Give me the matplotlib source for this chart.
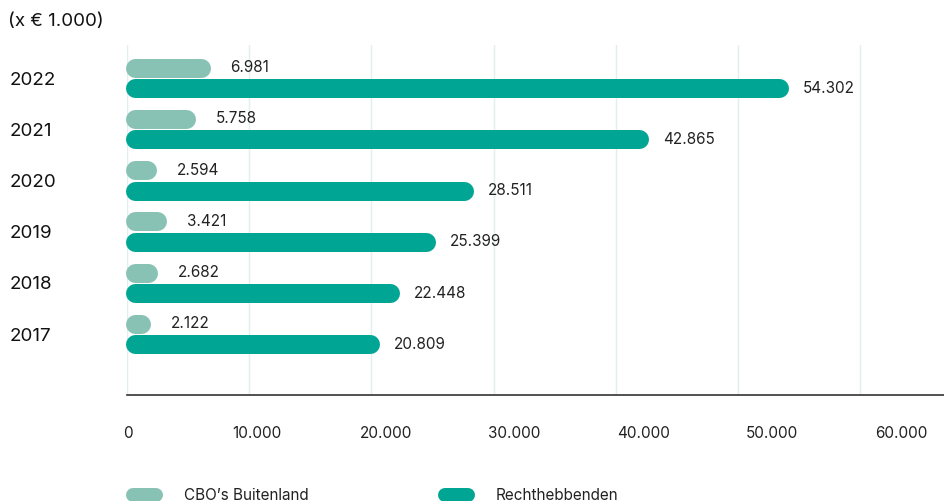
import matplotlib.pyplot as plt
from matplotlib.lines import Line2D

plt.rcParams['font.family'] = ['Inter', 'DejaVu Sans']

# data (x € 1.000)
years = ['2022', '2021', '2020', '2019', '2018', '2017']
cbo_buitenland = [6981, 5758, 2594, 3421, 2682, 2122]
rechthebbenden = [54302, 42865, 28511, 25399, 22448, 20809]
labels_cbo = ['6.981', '5.758', '2.594', '3.421', '2.682', '2.122']
labels_rh = ['54.302', '42.865', '28.511', '25.399', '22.448', '20.809']
ticks = [0, 10000, 20000, 30000, 40000, 50000, 60000]
tick_labels = ['0', '10.000', '20.000', '30.000', '40.000', '50.000', '60.000']

c_light = '#88c2b4'
c_dark = '#00a693'
c_grid = '#e2efef'

W, H, DPI = 944, 501, 100
fig = plt.figure(figsize=(W / DPI, H / DPI), dpi=DPI)
left_px, right_px, top_px, bot_px = 127, 944, 45, 395
ax = fig.add_axes([left_px / W, 1 - bot_px / H, (right_px - left_px) / W, (bot_px - top_px) / H])

xmax = (right_px - left_px) / 733 * 60000
ax.set_xlim(0, xmax)
ax.set_ylim(6.19, -0.645)

px_per_unit = (right_px - left_px) / xmax
bar_px = 19
lw = bar_px * 72 / DPI
r = (bar_px / 2) / px_per_unit
shift = 2 / px_per_unit   # bars sit a hair left of the zero grid line
off = 0.2

for i, (a, b) in enumerate(zip(cbo_buitenland, rechthebbenden)):
    ax.plot([r - shift, max(a - r, r) - shift], [i - off, i - off], color=c_light, lw=lw,
            solid_capstyle='round', zorder=3, clip_on=False)
    ax.plot([r - shift, b - r - shift], [i + off, i + off], color=c_dark, lw=lw,
            solid_capstyle='round', zorder=3, clip_on=False)
    ax.annotate(labels_cbo[i], (a, i - off), xytext=(13, 0), textcoords='offset points',
                va='center', ha='left', fontsize=11, color='#222222')
    ax.annotate(labels_rh[i], (b, i + off), xytext=(9, 0), textcoords='offset points',
                va='center', ha='left', fontsize=11, color='#222222')

# grid
for t in ticks:
    ax.axvline(t, color=c_grid, lw=1, zorder=0)

for s in ['top', 'right', 'left']:
    ax.spines[s].set_visible(False)
ax.spines['bottom'].set_color('#333333')
ax.spines['bottom'].set_linewidth(1.2)

# year labels
ax.set_yticks(range(len(years)))
ax.set_yticklabels(years, fontsize=13.5, color='#111111', ha='left')
ax.tick_params(axis='y', length=0, pad=(left_px - 10) * 72 / DPI)

# x tick labels are spread a bit wider than the grid
ax.set_xticks([])
ax2 = ax.twiny()
ax2.xaxis.set_ticks_position('bottom')
ax2.xaxis.set_label_position('bottom')
scale2 = 773 / 60000
ax2.set_xlim(-(128 - left_px) / scale2, (right_px - 128) / scale2)
ax2.set_xticks(ticks)
ax2.set_xticklabels(tick_labels, fontsize=11, color='#222222')
ax2.tick_params(axis='x', length=0, pad=22)
for s in ax2.spines.values():
    s.set_visible(False)

fig.text(8 / W, 1 - 21 / H, '(x € 1.000)', fontsize=13.5, va='center', ha='left', color='#111111')

# legend
ly = 1 - 495 / H
for x0, x1, tx, col, name in [(126, 163, 184, c_light, 'CBO’s Buitenland'),
                              (438, 475, 496, c_dark, 'Rechthebbenden')]:
    fig.add_artist(Line2D([(x0 + 7) / W, (x1 - 7) / W], [ly, ly], color=col, lw=14 * 72 / DPI,
                          solid_capstyle='round'))
    fig.text(tx / W, ly, name, fontsize=11, va='center', ha='left', color='#222222')

fig.savefig('out.png', dpi=DPI)
